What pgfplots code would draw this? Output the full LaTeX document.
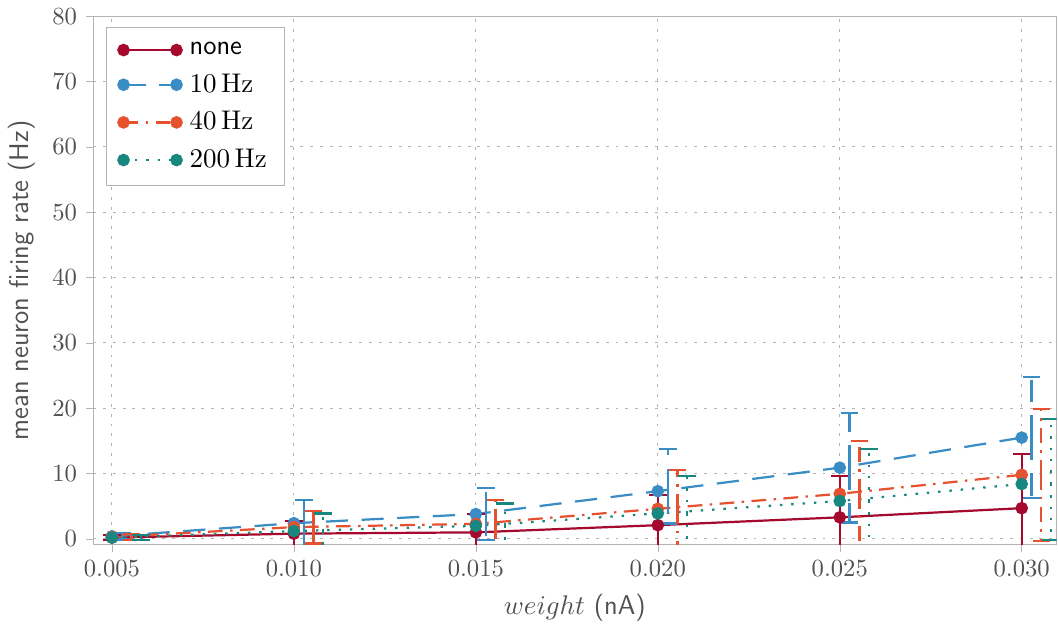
\documentclass[border=0pt]{standalone}
\usepackage{pgfplots}
\usepackage{pgfplotstable}
\pgfplotsset{compat=1.18}

\definecolor{cnone}{HTML}{A50A2E}
\definecolor{cten}{HTML}{3A8CC4}
\definecolor{cforty}{HTML}{E6512F}
\definecolor{ctwo}{HTML}{17877F}
\definecolor{axisgray}{HTML}{B4B4B4}
\definecolor{textgray}{HTML}{505050}

% mean rate, upper and lower error
\pgfplotstableread{
x     y    ep    em
0.005 0.2  0.4   0.4
0.010 0.8  1.95  1.95
0.015 1.0  2.8   2.8
0.020 2.1  4.6   4.6
0.025 3.3  6.3   6.3
0.030 4.7  8.3   8.3
}\tnone
\pgfplotstableread{
x     y    ep    em
0.005 0.4  0.5   0.5
0.010 2.4  3.5   3.5
0.015 3.8  4.0   4.0
0.020 7.3  6.4   4.95
0.025 10.9 8.4   8.4
0.030 15.5 9.3   9.2
}\tten
\pgfplotstableread{
x     y    ep    em
0.005 0.3  0.5   0.5
0.010 1.8  2.5   2.5
0.015 2.3  3.7   3.7
0.020 4.6  5.9   5.9
0.025 6.9  8.1   8.1
0.030 9.8  10.1  10.1
}\tforty
\pgfplotstableread{
x     y    ep    em
0.005 0.2  0.4   0.4
0.010 1.2  2.7   2.7
0.015 2.0  3.4   3.4
0.020 3.9  5.7   5.7
0.025 5.8  8.0   8.0
0.030 8.4  9.95  8.55
}\ttwo

\pgfplotsset{
  pnone/.style={cnone, solid},
  pten/.style={cten, dash pattern=on 9pt off 5.5pt},
  pforty/.style={cforty, dash pattern=on 6pt off 3pt on 1pt off 3pt},
  ptwo/.style={ctwo, dash pattern=on 1pt off 3.6pt},
  ebar/.style={
    forget plot, draw=none, mark=none,
    error bars/.cd, y dir=both, y explicit,
    error mark=|, error mark options={mark size=3.6pt, line width=0.9pt},
    error bar style={#1, line width=0.9pt}},
}

\begin{document}
\begin{tikzpicture}
\begin{axis}[
  scale only axis, width=391pt, height=214.5pt,
  xmin=0.00448, xmax=0.03096, ymin=-0.9, ymax=80,
  scaled x ticks=false,
  xtick={0.005,0.010,0.015,0.020,0.025,0.030},
  xticklabels={$0.005$,$0.010$,$0.015$,$0.020$,$0.025$,$0.030$},
  ytick={0,10,...,80},
  axis line style={axisgray},
  tick style={axisgray},
  tick align=outside, tick pos=left, major tick length=3pt,
  grid=major,
  grid style={axisgray, dash pattern=on 1.2pt off 2.8pt},
  ticklabel style={textgray},
  xlabel={$weight$ \textsf{(nA)}},
  ylabel={\textsf{mean neuron firing rate (Hz)}},
  label style={textgray, font=\fontsize{11}{13}\selectfont},
  legend cell align=left,
  legend style={at={(0.013,0.98)}, anchor=north west, draw=axisgray,
    font=\fontsize{11}{13}\selectfont, row sep=2.3pt,
    inner xsep=5pt, inner ysep=4pt},
  legend image code/.code={%
    \draw[#1] plot coordinates {(0pt,0pt) (21.5pt,0pt)};
    \path (0pt,-2pt) (24.4pt,2pt);},
  every axis plot/.append style={line width=0.9pt},
]
\addplot[pnone, mark=*, mark size=2.1pt, mark options={solid}]
  table[x=x, y=y] {\tnone};
\addlegendentry{\textsf{none}}
\addplot[pten, mark=*, mark size=2.1pt, mark options={solid}]
  table[x=x, y=y] {\tten};
\addlegendentry{$10\,\mathrm{Hz}$}
\addplot[pforty, mark=*, mark size=2.1pt, mark options={solid}]
  table[x=x, y=y] {\tforty};
\addlegendentry{$40\,\mathrm{Hz}$}
\addplot[ptwo, mark=*, mark size=2.1pt, mark options={solid}]
  table[x=x, y=y] {\ttwo};
\addlegendentry{$200\,\mathrm{Hz}$}

% error bars, staggered to the right of each weight
\addplot[ebar=pnone]
  table[x=x, y=y, y error plus=ep, y error minus=em] {\tnone};
\addplot[ebar=pten]
  table[x expr=\thisrow{x}+0.00027, y=y, y error plus=ep, y error minus=em] {\tten};
\addplot[ebar=pforty]
  table[x expr=\thisrow{x}+0.00054, y=y, y error plus=ep, y error minus=em] {\tforty};
\addplot[ebar=ptwo]
  table[x expr=\thisrow{x}+0.0008, y=y, y error plus=ep, y error minus=em] {\ttwo};
\end{axis}
\end{tikzpicture}
\end{document}
